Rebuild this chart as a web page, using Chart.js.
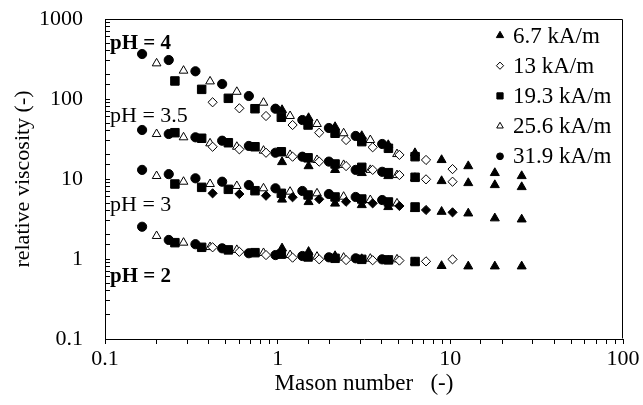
<!DOCTYPE html>
<html>
<head>
<meta charset="utf-8">
<script src="https://cdn.jsdelivr.net/npm/chart.js@4/dist/chart.umd.min.js"></script>
<style>
  html, body { margin: 0; padding: 0; background: #fff; }
  canvas { display: block; }
</style>
</head>
<body>
<canvas id="chart" width="643" height="405"></canvas>
<script>
// Magnetic field strengths (legend entries)
const fieldLabels = ['6.7 kA/m', '13 kA/m', '19.3 kA/m', '25.6 kA/m', '31.9 kA/m'];

// Mason numbers for each field strength
const mason_6_7  = [1.06, 1.51, 2.15, 3.07, 4.37, 6.24, 8.90, 12.7, 18.1, 25.9];
const mason_13   = [0.420, 0.600, 0.856, 1.22, 1.74, 2.49, 3.55, 5.07, 7.23, 10.3];
const mason_19_3 = [0.254, 0.363, 0.518, 0.739, 1.05, 1.50, 2.15, 3.07, 4.38, 6.25];
const mason_25_6 = [0.199, 0.285, 0.406, 0.580, 0.828, 1.18, 1.69, 2.41, 3.44, 4.91];
const mason_31_9 = [0.164, 0.234, 0.334, 0.477, 0.681, 0.971, 1.39, 1.98, 2.83, 4.03];

// Relative viscosity, pH = 4
const visc_pH4_6_7  = [72.9, 57.9, 44.7, 34.5, 26.6, 21.1, 17.3, 14.5, 11.9, 10.9];
const visc_pH4_13   = [91, 76.5, 61.3, 47.3, 37.9, 30.7, 24.9, 20.0, 17.3, 13.3];
const visc_pH4_19_3 = [168, 132, 102, 75.6, 59.1, 47.3, 37.3, 29.3, 24.2, 19.0];
const visc_pH4_25_6 = [279, 226, 166, 123, 89.9, 61.3, 48.7, 37.3, 30.7, 20.5];
const visc_pH4_31_9 = [365, 307, 222, 154, 109, 75.6, 54.6, 43.4, 34.5, 27.4];

// Relative viscosity, pH = 3.5
const visc_pH35_6_7  = [16.3, 14.5, 13.0, 11.9, 10.9, 10.3, 9.44, 8.91, 8.41, 7.94];
const visc_pH35_13   = [25.3, 23.5, 21.3, 19.0, 16.5, 14.5, 13.0, 11.2, 9.9, 9.25];
const visc_pH35_19_3 = [37.9, 32.3, 28.4, 25.3, 21.9, 18.4, 15.4, 14.0, 12.0, 10.5];
const visc_pH35_25_6 = [36.5, 33.2, 27.9, 25.3, 22.6, 20.0, 17.3, 15.0, 13.0, 11.2];
const visc_pH35_31_9 = [41, 36.5, 33.2, 30.1, 25.9, 21.3, 19.0, 16.5, 13.0, 12.3];

// Relative viscosity, pH = 3
const visc_pH3_6_7  = [5.54, 5.16, 4.94, 4.73, 4.47, 4.22, 3.90, 3.72, 3.23, 3.13];
const visc_pH3_13   = [6.62, 6.49, 6.18, 5.91, 5.58, 5.20, 4.96, 4.60, 4.10, 3.83];
const visc_pH3_19_3 = [8.66, 7.87, 7.43, 7.14, 6.62, 6.31, 5.96, 5.62, 5.16, 4.47];
const visc_pH3_25_6 = [10.9, 9.25, 8.66, 8.18, 7.65, 6.94, 6.62, 6.01, 5.46, 4.96];
const visc_pH3_31_9 = [13.0, 11.5, 10.2, 9.25, 8.41, 7.65, 7.08, 6.49, 5.96, 5.46];

// Relative viscosity, pH = 2
const visc_pH2_6_7  = [1.36, 1.23, 1.09, 1.00, 0.95, 0.91, 0.82, 0.81, 0.81, 0.81];
const visc_pH2_13   = [1.40, 1.23, 1.12, 1.04, 0.99, 0.97, 0.965, 0.956, 0.934, 0.99];
const visc_pH2_19_3 = [1.60, 1.40, 1.30, 1.20, 1.15, 1.06, 1.02, 0.99, 0.975, 0.93];
const visc_pH2_25_6 = [1.94, 1.60, 1.41, 1.30, 1.19, 1.12, 1.07, 1.04, 1.01, 0.99];
const visc_pH2_31_9 = [2.53, 1.73, 1.53, 1.36, 1.18, 1.12, 1.09, 1.05, 1.02, 0.99];

// pH group annotations and their anchor (Mason number, viscosity)
const phLabels = ['pH = 4', 'pH = 3.5', 'pH = 3', 'pH = 2'];
const phLabelBold = [true, false, false, true];
const phLabelX = 0.107;
const phLabelY = [416, 52, 4.02, 0.52];

const FONT = "'Liberation Serif', 'Times New Roman', serif";

// Marker appearance for each field strength
const markers = [
  { pointStyle: 'triangle', radius: 5.2, fill: '#000', legendRadius: 4.2 },
  { pointStyle: 'rectRot',  radius: 4.6, fill: '#fff', legendRadius: 3.6 },
  { pointStyle: 'rect',     radius: 6.0, fill: '#000', legendRadius: 4.4 },
  { pointStyle: 'triangle', radius: 5.0, fill: '#fff', legendRadius: 3.8 },
  { pointStyle: 'circle',   radius: 4.6, fill: '#000', legendRadius: 3.4 }
];

const masonByField = [mason_6_7, mason_13, mason_19_3, mason_25_6, mason_31_9];
const groups = [
  { visc: [visc_pH4_6_7, visc_pH4_13, visc_pH4_19_3, visc_pH4_25_6, visc_pH4_31_9], solidDiamond: false },
  { visc: [visc_pH35_6_7, visc_pH35_13, visc_pH35_19_3, visc_pH35_25_6, visc_pH35_31_9], solidDiamond: false },
  { visc: [visc_pH3_6_7, visc_pH3_13, visc_pH3_19_3, visc_pH3_25_6, visc_pH3_31_9], solidDiamond: true },
  { visc: [visc_pH2_6_7, visc_pH2_13, visc_pH2_19_3, visc_pH2_25_6, visc_pH2_31_9], solidDiamond: false }
];

const datasets = [];
groups.forEach(g => {
  masonByField.forEach((mn, f) => {
    const m = markers[f];
    const fill = (f === 1 && g.solidDiamond) ? '#000' : m.fill;
    datasets.push({
      label: fieldLabels[f],
      data: mn.map((x, i) => ({ x: x, y: g.visc[f][i] })),
      showLine: false,
      pointStyle: m.pointStyle,
      pointRadius: m.radius,
      pointBackgroundColor: fill,
      pointBorderColor: '#000',
      pointBorderWidth: 1
    });
  });
});

function decadeLabel(v) {
  const l = Math.log10(v);
  if (Math.abs(l - Math.round(l)) > 1e-6) return '';
  return v < 1 ? v.toFixed(1) : String(Math.round(v));
}

// Closed frame around the plotting area
const framePlugin = {
  id: 'frame',
  afterDraw(chart) {
    const { ctx, chartArea: a } = chart;
    ctx.save();
    ctx.strokeStyle = '#000';
    ctx.lineWidth = 1;
    ctx.beginPath();
    ctx.moveTo(Math.round(a.left) + 0.5, Math.round(a.top) + 0.5);
    ctx.lineTo(Math.round(a.right) - 0.5, Math.round(a.top) + 0.5);
    ctx.lineTo(Math.round(a.right) - 0.5, Math.round(a.bottom) - 0.5);
    ctx.stroke();
    ctx.restore();
  }
};

// pH group captions placed on the data scales
const phPlugin = {
  id: 'phLabels',
  afterDatasetsDraw(chart) {
    const { ctx, scales: { x, y } } = chart;
    ctx.save();
    ctx.fillStyle = '#000';
    ctx.textAlign = 'left';
    ctx.textBaseline = 'alphabetic';
    phLabels.forEach((t, i) => {
      ctx.font = (phLabelBold[i] ? 'bold 21px ' : '22px ') + FONT;
      ctx.fillText(t, x.getPixelForValue(phLabelX), y.getPixelForValue(phLabelY[i]));
    });
    ctx.restore();
  }
};

// Legend inside the top-right corner of the plotting area
const legendPlugin = {
  id: 'fieldLegend',
  afterDraw(chart) {
    const { ctx, chartArea: a } = chart;
    const mx = a.right - 123, tx = a.right - 110, y0 = a.top + 16.5, dy = 30.2;
    ctx.save();
    ctx.font = '23px ' + FONT;
    ctx.textAlign = 'left';
    ctx.textBaseline = 'middle';
    fieldLabels.forEach((t, i) => {
      const m = markers[i];
      const y = y0 + i * dy;
      ctx.fillStyle = m.fill;
      ctx.strokeStyle = '#000';
      ctx.lineWidth = 1;
      Chart.helpers.drawPoint(ctx, { pointStyle: m.pointStyle, radius: m.legendRadius, rotation: 0, borderWidth: 1 }, mx, y);
      ctx.fillStyle = '#000';
      ctx.fillText(t, tx, y + 1);
    });
    ctx.restore();
  }
};

new Chart(document.getElementById('chart'), {
  type: 'scatter',
  data: { datasets: datasets },
  options: {
    responsive: false,
    devicePixelRatio: 1,
    animation: false,
    layout: { padding: { left: 0, top: 19, right: 20, bottom: 0 } },
    plugins: { legend: { display: false }, tooltip: { enabled: false } },
    scales: {
      x: {
        type: 'logarithmic',
        min: 0.1,
        max: 100,
        afterFit(s) { s.height = 66; s.paddingLeft = 0; s.paddingRight = 0; },
        border: { display: true, color: '#000', width: 1 },
        grid: { display: true, drawOnChartArea: false, drawTicks: true, tickLength: 5, tickColor: '#000' },
        ticks: {
          autoSkip: false, maxRotation: 0, padding: 2, color: '#000',
          font: { family: FONT, size: 22 },
          callback: v => decadeLabel(v)
        },
        title: {
          display: true, text: 'Mason number   (-)', color: '#000',
          font: { family: FONT, size: 23 }, padding: { top: 0, bottom: 7 }
        }
      },
      y: {
        type: 'logarithmic',
        min: 0.1,
        max: 1000,
        afterFit(s) { s.width = 105; s.paddingTop = 0; s.paddingBottom = 0; },
        border: { display: true, color: '#000', width: 1 },
        grid: { display: true, drawOnChartArea: false, drawTicks: true, tickLength: -5, tickColor: '#000' },
        ticks: {
          autoSkip: false, padding: 27, color: '#000',
          font: { family: FONT, size: 22 },
          callback: v => decadeLabel(v)
        },
        title: {
          display: true, text: 'relative viscosity (-)', color: '#000',
          font: { family: FONT, size: 22 }, padding: { top: 10, bottom: 0 }
        }
      }
    }
  },
  plugins: [framePlugin, phPlugin, legendPlugin]
});
</script>
</body>
</html>
